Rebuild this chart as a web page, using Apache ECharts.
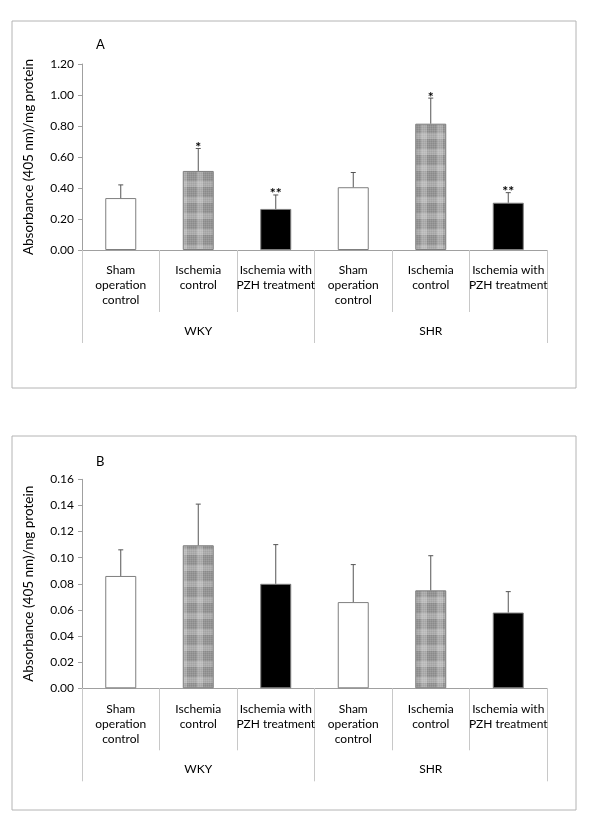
<!DOCTYPE html>
<html><head><meta charset="utf-8">
<script src="https://cdn.jsdelivr.net/npm/echarts@6/dist/echarts.min.js"></script>
<style>html,body{margin:0;padding:0;background:#fff}#c{width:600px;height:819px}</style>
</head><body><div id="c"></div>
<script>
const categories = ['Sham\noperation\ncontrol', 'Ischemia\ncontrol', 'Ischemia with\nPZH treatment', 'Sham\noperation\ncontrol', 'Ischemia\ncontrol', 'Ischemia with\nPZH treatment'];
const groups = ['WKY', 'SHR'];
const meansA = [0.335, 0.51, 0.265, 0.405, 0.815, 0.305];
const sdA = [0.085, 0.145, 0.09, 0.095, 0.165, 0.065];
const sigA = ['', '*', '**', '', '*', '**'];
const meansB = [0.086, 0.1095, 0.080, 0.066, 0.075, 0.058];
const sdB = [0.020, 0.0315, 0.030, 0.0287, 0.0265, 0.016];
const sigB = ['', '', '', '', '', ''];
const yTicksA = {min: 0, max: 1.2, interval: 0.2};
const yTicksB = {min: 0, max: 0.16, interval: 0.02};
const yName = 'Absorbance (405 nm)/mg protein';

// plaid pattern
function makePlaid() {
  const c = document.createElement('canvas');
  c.width = 16; c.height = 16;
  const g = c.getContext('2d');
  g.fillStyle = '#8a8a8a'; g.fillRect(0, 0, 16, 16);
  g.fillStyle = 'rgba(255,255,255,0.22)';
  g.fillRect(0, 5, 16, 6);
  g.fillRect(5, 0, 6, 16);
  g.fillStyle = 'rgba(255,255,255,0.10)';
  for (let i = 0; i < 16; i += 2) { g.fillRect(i, 0, 1, 16); g.fillRect(0, i, 16, 1); }
  return c;
}
const plaid = {image: makePlaid(), repeat: 'repeat'};
const fills = ['#ffffff', plaid, '#000000', '#ffffff', plaid, '#000000'];

const FONT = 'Lato';
const txt = '#000';
const axisGray = '#a0a0a0';
const divGray = '#c8c8c8';

function barData(means) {
  return means.map((v, i) => ({value: v, itemStyle: {color: fills[i], borderColor: '#7f7f7f', borderWidth: 1}}));
}
function errData(means, sds, sig) {
  return means.map((v, i) => [i, v, sds[i], sig[i]]);
}
function renderErr(params, api) {
  const i = api.value(0), m = api.value(1), sd = api.value(2);
  const sig = params.context.sig[params.dataIndex];
  const p0 = api.coord([i, m]);
  const p1 = api.coord([i, m + sd]);
  const st = {stroke: '#555', lineWidth: 1};
  const children = [
    {type: 'line', shape: {x1: p0[0], y1: p0[1], x2: p1[0], y2: p1[1]}, style: st},
    {type: 'line', shape: {x1: p1[0] - 2.5, y1: p1[1], x2: p1[0] + 2.5, y2: p1[1]}, style: st}
  ];
  if (sig) children.push({type: 'text', style: {text: sig, x: p1[0], y: p1[1] - 1, textAlign: 'center', textVerticalAlign: 'middle', fill: '#000', font: 'bold 14px ' + FONT}});
  return {type: 'group', children};
}

function grid(top, bottom) { return {left: 82, right: 53, top, bottom, containLabel: false}; }
function xCat(gi) {
  return {
    type: 'category', gridIndex: gi, data: categories, position: 'bottom',
    axisLine: {show: true, lineStyle: {color: axisGray}},
    axisTick: {show: true, interval: 0, length: 62, lineStyle: {color: divGray}},
    axisLabel: {interval: 0, margin: 13, color: txt, fontFamily: FONT, fontSize: 12, lineHeight: 15}
  };
}
function xGroup(gi) {
  return {
    type: 'category', gridIndex: gi, data: groups, position: 'bottom',
    axisLine: {show: false},
    axisTick: {show: true, interval: 0, length: 93, lineStyle: {color: divGray}},
    axisLabel: {interval: 0, margin: 75, color: txt, fontFamily: FONT, fontSize: 12}
  };
}
function yAx(gi, t) {
  return {
    type: 'value', gridIndex: gi, min: t.min, max: t.max, interval: t.interval,
    name: yName, nameLocation: 'middle', nameRotate: 90, nameGap: 46,
    nameTextStyle: {color: txt, fontFamily: FONT, fontSize: 13.5},
    axisLine: {show: true, lineStyle: {color: axisGray}},
    axisTick: {show: true, inside: false, length: 4, lineStyle: {color: axisGray}},
    splitLine: {show: false},
    axisLabel: {margin: 8, color: txt, fontFamily: FONT, fontSize: 12, formatter: v => v.toFixed(2)}
  };
}

const chart = echarts.init(document.getElementById('c'), null, {renderer: 'canvas'});
const errA = {type: 'custom', xAxisIndex: 0, yAxisIndex: 0, data: errData(meansA, sdA, sigA), renderItem: (p, a) => { p.context.sig = sigA; return renderErr(p, a); }, z: 5};
const errB = {type: 'custom', xAxisIndex: 2, yAxisIndex: 1, data: errData(meansB, sdB, sigB), renderItem: (p, a) => { p.context.sig = sigB; return renderErr(p, a); }, z: 5};

chart.setOption({
  animation: false,
  backgroundColor: '#fff',
  grid: [grid(64, 569), grid(479.3, 130.7)],
  xAxis: [xCat(0), xGroup(0), xCat(1), xGroup(1)],
  yAxis: [yAx(0, yTicksA), yAx(1, yTicksB)],
  graphic: [
    {type: 'rect', shape: {x: 12, y: 21, width: 564, height: 367}, style: {fill: 'none', stroke: '#b4b4b4', lineWidth: 1}, z: 0},
    {type: 'rect', shape: {x: 12, y: 436, width: 564, height: 374}, style: {fill: 'none', stroke: '#b4b4b4', lineWidth: 1}, z: 0},
    {type: 'text', left: 96, top: 38, style: {text: 'A', fill: '#000', font: '13px ' + FONT}},
    {type: 'text', left: 96, top: 455, style: {text: 'B', fill: '#000', font: '13px ' + FONT}}
  ],
  series: [
    {type: 'bar', xAxisIndex: 0, yAxisIndex: 0, data: barData(meansA), barWidth: '40%'},
    errA,
    {type: 'bar', xAxisIndex: 2, yAxisIndex: 1, data: barData(meansB), barWidth: '40%'},
    errB
  ]
});
</script></body></html>
